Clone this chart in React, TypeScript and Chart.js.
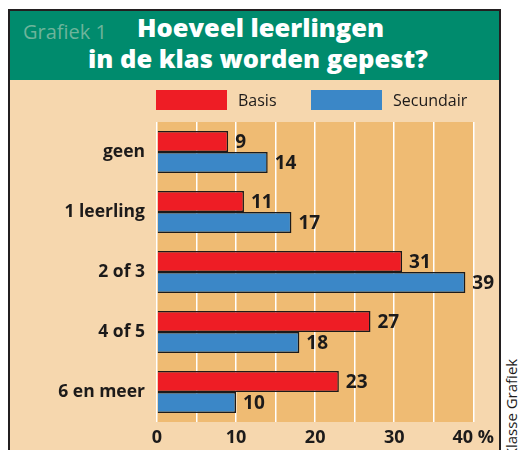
import React, { useEffect, useRef } from "react";
import { Chart, registerables } from "chart.js";

Chart.register(...registerables);

const categories = ["geen", "1 leerling", "2 of 3", "4 of 5", "6 en meer"];
const basisValues = [9, 11, 31, 27, 23];
const secundairValues = [14, 17, 39, 18, 10];
const seriesNames = ["Basis", "Secundair"];
const xMax = 40;
const xStep = 5;
const xLabelStep = 10;
const chartLabel = "Grafiek 1";
const titleLines = ["Hoeveel leerlingen", "in de klas worden gepest?"];
const sourceText = "Klasse Grafiek";

const FONT = '"Open Sans", "DejaVu Sans", sans-serif';
const GREEN = "#008b6d";
const BEIGE = "#f6d7ae";
const ORANGE = "#efbb73";
const RED = "#ee1d25";
const BLUE = "#3b87c7";
const INK = "#1c1a1a";

const plotBg = {
  id: "plotBg",
  beforeDraw(chart: any) {
    const { ctx, chartArea } = chart;
    ctx.save();
    ctx.fillStyle = ORANGE;
    ctx.fillRect(chartArea.left, chartArea.top, chartArea.right - chartArea.left, chartArea.bottom - chartArea.top);
    ctx.restore();
  },
};

const valueLabels = {
  id: "valueLabels",
  afterDatasetsDraw(chart: any) {
    const { ctx } = chart;
    ctx.save();
    ctx.fillStyle = INK;
    ctx.font = `bold 19px ${FONT}`;
    ctx.textAlign = "left";
    ctx.textBaseline = "middle";
    chart.data.datasets.forEach((ds: any, di: number) => {
      const meta = chart.getDatasetMeta(di);
      meta.data.forEach((el: any, i: number) => {
        ctx.fillText(String(ds.data[i]), el.x + 7, el.y + 1);
      });
    });
    ctx.restore();
  },
};

const customLegend = {
  id: "customLegend",
  afterDraw(chart: any) {
    const { ctx, chartArea } = chart;
    ctx.save();
    const boxW = 71;
    const boxH = 20;
    const y = 10;
    const starts = [chartArea.left - 1, chartArea.left + 154];
    ctx.font = `16px ${FONT}`;
    ctx.textBaseline = "middle";
    ctx.textAlign = "left";
    chart.data.datasets.forEach((ds: any, i: number) => {
      const x = starts[i];
      ctx.fillStyle = ds.backgroundColor;
      ctx.fillRect(x, y, boxW, boxH);
      ctx.fillStyle = INK;
      ctx.fillText(ds.label, x + boxW + 11, y + boxH / 2 + 1);
    });
    ctx.restore();
  },
};

export default function App() {
  const ref = useRef<HTMLCanvasElement | null>(null);

  useEffect(() => {
    if (!ref.current) return;
    const chart = new Chart(ref.current, {
      type: "bar",
      data: {
        labels: categories,
        datasets: [
          {
            label: seriesNames[0],
            data: basisValues,
            backgroundColor: RED,
            borderColor: INK,
            borderWidth: 1.5,
            categoryPercentage: 0.7,
            barPercentage: 1,
          },
          {
            label: seriesNames[1],
            data: secundairValues,
            backgroundColor: BLUE,
            borderColor: INK,
            borderWidth: 1.5,
            categoryPercentage: 0.7,
            barPercentage: 1,
          },
        ],
      },
      options: {
        indexAxis: "y",
        animation: false,
        responsive: false,
        maintainAspectRatio: false,
        layout: { padding: { top: 42, right: 24, left: 0, bottom: 0 } },
        plugins: { legend: { display: false }, tooltip: { enabled: false } },
        scales: {
          x: {
            min: 0,
            max: xMax,
            ticks: {
              stepSize: xStep,
              autoSkip: false,
              maxRotation: 0,
              padding: 5,
              color: INK,
              font: { family: FONT, size: 18, weight: "bold" },
              callback: (v: any) => (v % xLabelStep === 0 ? (v === xMax ? `${v} %` : String(v)) : ""),
            },
            grid: { color: "#ffffff", lineWidth: 1.5, drawTicks: false },
            border: { display: false },
            afterFit: (s: any) => {
              s.height = 28;
            },
          },
          y: {
            ticks: {
              padding: 12,
              color: INK,
              font: { family: FONT, size: 17.5, weight: "bold" },
            },
            grid: { display: false, drawTicks: false },
            border: { display: false },
            afterFit: (s: any) => {
              s.width = 147;
            },
          },
        },
      },
      plugins: [plotBg, valueLabels, customLegend],
    } as any);
    return () => chart.destroy();
  }, []);

  return (
    <div
      style={{
        position: "absolute",
        left: 0,
        top: 0,
        width: 518,
        height: 450,
        overflow: "hidden",
        background: "#ffffff",
        fontFamily: FONT,
      }}
    >
      <div
        style={{
          position: "absolute",
          left: 8,
          top: 9,
          width: 489,
          height: 460,
          border: "2px solid #231f20",
          background: BEIGE,
        }}
      >
        <div style={{ position: "absolute", left: 0, top: 0, width: 489, height: 69, background: GREEN }}>
          <span
            style={{
              position: "absolute",
              left: 13,
              top: 11,
              fontSize: 20,
              lineHeight: "20px",
              color: "#6db49b",
              whiteSpace: "nowrap",
            }}
          >
            {chartLabel}
          </span>
          <span
            style={{
              position: "absolute",
              left: 127,
              top: 3,
              fontSize: 25.5,
              lineHeight: "26px",
              fontWeight: 800,
              color: "#ffffff",
              whiteSpace: "nowrap",
            }}
          >
            {titleLines[0]}
          </span>
          <span
            style={{
              position: "absolute",
              left: 78,
              top: 34,
              fontSize: 25.5,
              lineHeight: "26px",
              fontWeight: 800,
              color: "#ffffff",
              whiteSpace: "nowrap",
            }}
          >
            {titleLines[1]}
          </span>
        </div>
        <canvas
          ref={ref}
          width={489}
          height={370}
          style={{ position: "absolute", left: 0, top: 69, width: 489, height: 370 }}
        />
      </div>
      <div
        style={{
          position: "absolute",
          left: 511,
          top: 408,
          transform: "translate(-50%, -50%) rotate(-90deg)",
          fontSize: 15,
          lineHeight: "15px",
          color: INK,
          whiteSpace: "nowrap",
        }}
      >
        {sourceText}
      </div>
    </div>
  );
}
